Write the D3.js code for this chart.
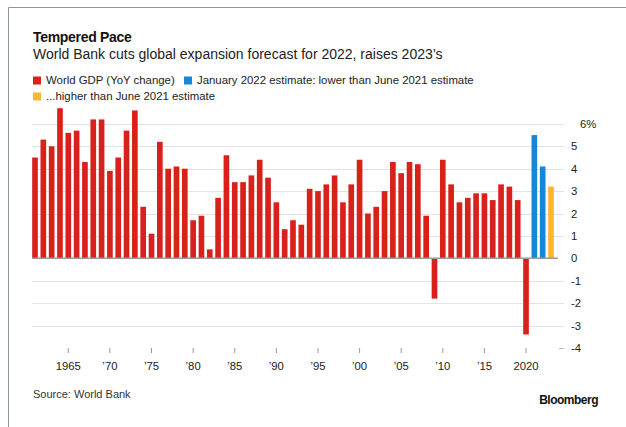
<!DOCTYPE html>
<html>
<head>
<meta charset="utf-8">
<script src="https://cdn.jsdelivr.net/npm/d3@7"></script>
<style>
  html, body { margin: 0; padding: 0; background: #fff; }
  svg { display: block; font-family: "Liberation Sans", Arial, Helvetica, sans-serif; }
</style>
</head>
<body>
<svg id="chart" width="626" height="427"></svg>
<script>
// World GDP growth, year over year (%), 1961–2020
const years = d3.range(1961, 2021);
const gdpGrowth = [
  4.5, 5.3, 5.0, 6.7, 5.6, 5.7, 4.3, 6.2, 6.2, 3.9,
  4.5, 5.7, 6.6, 2.3, 1.1, 5.2, 4.0, 4.1, 4.0, 1.7,
  1.9, 0.4, 2.7, 4.6, 3.4, 3.4, 3.7, 4.4, 3.6, 2.5,
  1.3, 1.7, 1.5, 3.1, 3.0, 3.3, 3.7, 2.5, 3.3, 4.4,
  2.0, 2.3, 3.0, 4.3, 3.8, 4.3, 4.2, 1.9, -1.8, 4.4,
  3.3, 2.5, 2.7, 2.9, 2.9, 2.6, 3.3, 3.2, 2.6, -3.4
];
// January 2022 World Bank forecasts
const forecastYears = [2021, 2022, 2023];
const forecastValues = [5.5, 4.1, 3.2];
const forecastKind = ["lower", "lower", "higher"];

const yTicks = [-4, -3, -2, -1, 0, 1, 2, 3, 4, 5, 6];
const xTickYears = [1965, 1970, 1975, 1980, 1985, 1990, 1995, 2000, 2005, 2010, 2015, 2020];

const legendItems = [
  { label: "World GDP (YoY change)", kind: "actual" },
  { label: "January 2022 estimate: lower than June 2021 estimate", kind: "lower" },
  { label: "...higher than June 2021 estimate", kind: "higher" }
];

const colors = { actual: "#d9211c", lower: "#1686d9", higher: "#f8b730" };

const bars = years.map((y, i) => ({ year: y, value: gdpGrowth[i], kind: "actual" }))
  .concat(forecastYears.map((y, i) => ({ year: y, value: forecastValues[i], kind: forecastKind[i] })));

const svg = d3.select("#chart");

// frame lines (top and left)
svg.append("line").attr("x1", 8.5).attr("x2", 626).attr("y1", 7.5).attr("y2", 7.5)
  .attr("stroke", "#8c969b").attr("stroke-width", 1);
svg.append("line").attr("x1", 8.5).attr("x2", 8.5).attr("y1", 7.5).attr("y2", 427)
  .attr("stroke", "#8c969b").attr("stroke-width", 1);

// titles
svg.append("text").attr("x", 33).attr("y", 42)
  .attr("font-size", 14).attr("font-weight", "bold").attr("fill", "#111")
  .attr("letter-spacing", -0.3)
  .text("Tempered Pace");
svg.append("text").attr("x", 33).attr("y", 59)
  .attr("font-size", 14).attr("fill", "#222")
  .text("World Bank cuts global expansion forecast for 2022, raises 2023\u2019s");

// legend
const legendPos = [[33, 84], [184, 84], [33, 100]];
legendItems.forEach((d, i) => {
  const [lx, ly] = legendPos[i];
  svg.append("rect").attr("x", lx).attr("y", ly - 7.5).attr("width", 8).attr("height", 8)
    .attr("fill", colors[d.kind]);
  svg.append("text").attr("x", lx + 13).attr("y", ly)
    .attr("font-size", 11.4).attr("fill", "#222").text(d.label);
});

// scales
const x = d3.scaleBand()
  .domain(d3.range(1961, 2024))
  .range([30.84, 555.16])
  .paddingInner(0.32)
  .paddingOuter(0.16);

const y = d3.scaleLinear().domain([-4, 6]).range([347.9, 123.9]);

// gridlines
svg.append("g").selectAll("line")
  .data(yTicks.filter(t => t !== 0 && t !== -4))
  .join("line")
  .attr("x1", 32).attr("x2", 564)
  .attr("y1", d => Math.round(y(d)) + 0.5).attr("y2", d => Math.round(y(d)) + 0.5)
  .attr("stroke", "#e3e3e3").attr("stroke-width", 1.2);

// short tick at the bottom value
svg.append("line").attr("x1", 559).attr("x2", 564)
  .attr("y1", Math.round(y(-4)) + 0.5).attr("y2", Math.round(y(-4)) + 0.5)
  .attr("stroke", "#bbb");

// y-axis labels on the right
const yAxis = d3.axisRight(y).tickValues(yTicks).tickSize(0).tickPadding(0)
  .tickFormat(d => d === 6 ? "6%" : String(d));
const gy = svg.append("g").attr("transform", "translate(571,0)").call(yAxis);
gy.select(".domain").remove();
gy.selectAll("text")
  .attr("font-size", 11.3).attr("fill", "#222")
  .attr("font-family", "'Liberation Sans', Arial, sans-serif")
  .attr("x", d => d === 6 ? 9 : 0);

// bars
svg.append("g").selectAll("rect")
  .data(bars)
  .join("rect")
  .attr("x", d => x(d.year))
  .attr("width", x.bandwidth())
  .attr("y", d => y(Math.max(0, d.value)))
  .attr("height", d => Math.abs(y(d.value) - y(0)))
  .attr("fill", d => colors[d.kind]);

// zero line
svg.append("line").attr("x1", 32).attr("x2", 558)
  .attr("y1", y(0)).attr("y2", y(0))
  .attr("stroke", "#9a9a9a").attr("stroke-width", 1.4);

// x axis ticks and labels
const xAxis = d3.axisBottom(x).tickValues(xTickYears).tickSize(5).tickPadding(9)
  .tickFormat(d => (d === 1965 || d === 2020) ? String(d) : "\u2019" + String(d).slice(2));
const gx = svg.append("g").attr("transform", "translate(0,348)").call(xAxis);
gx.select(".domain").remove();
gx.selectAll(".tick line").attr("stroke", "#999");
gx.selectAll("text").attr("font-size", 11.3).attr("fill", "#222")
  .attr("font-family", "'Liberation Sans', Arial, sans-serif");

// footer
svg.append("text").attr("x", 33).attr("y", 398)
  .attr("font-size", 11).attr("fill", "#333").text("Source: World Bank");
svg.append("text").attr("x", 598).attr("y", 404).attr("text-anchor", "end")
  .attr("font-size", 12).attr("font-weight", "bold").attr("fill", "#111")
  .attr("letter-spacing", -0.5)
  .text("Bloomberg");
</script>
</body>
</html>
